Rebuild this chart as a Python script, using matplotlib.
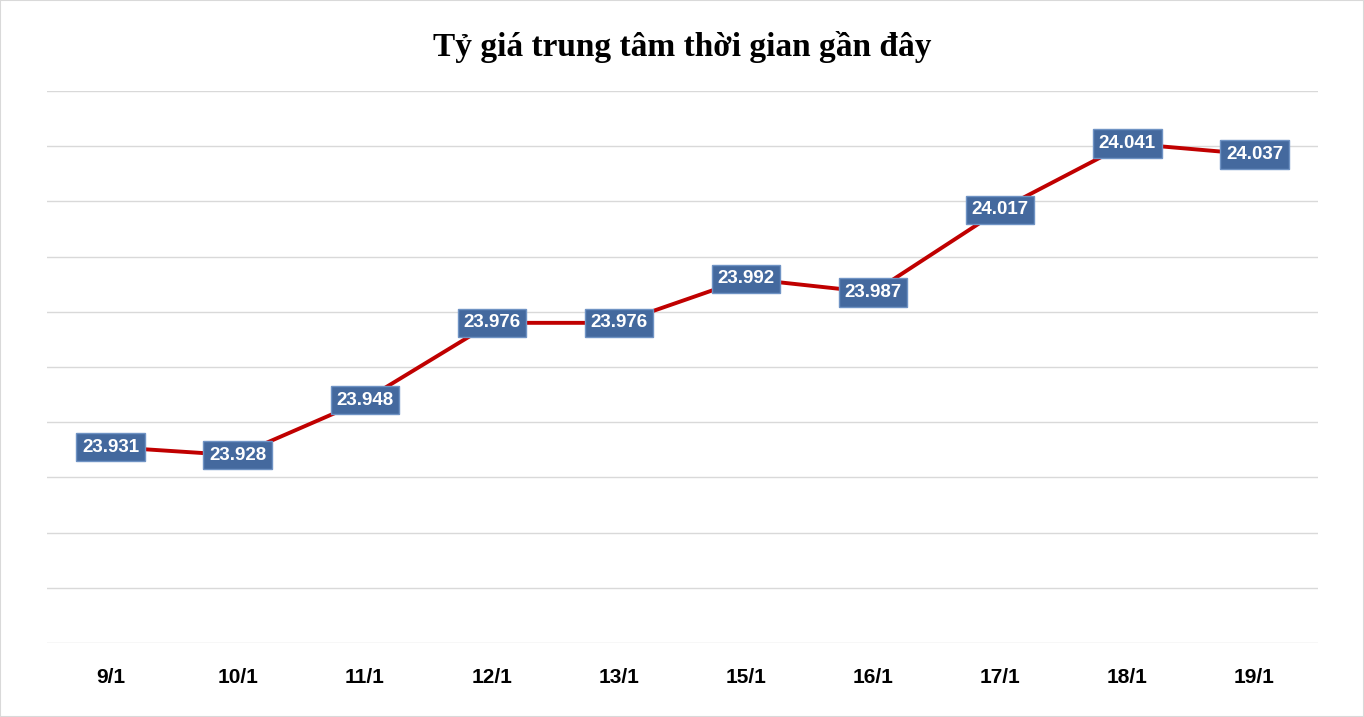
import matplotlib
matplotlib.use("Agg")
import matplotlib.pyplot as plt
from matplotlib.patches import Rectangle

categories = ["9/1", "10/1", "11/1", "12/1", "13/1", "15/1", "16/1", "17/1", "18/1", "19/1"]
values = [23.931, 23.928, 23.948, 23.976, 23.976, 23.992, 23.987, 24.017, 24.041, 24.037]
labels = ["23.931", "23.928", "23.948", "23.976", "23.976", "23.992", "23.987", "24.017", "24.041", "24.037"]

fig = plt.figure(figsize=(13.64, 7.17), dpi=100)
fig.patches.append(Rectangle((0, 0), 1, 1, transform=fig.transFigure, fill=False,
                             edgecolor="#d9d9d9", linewidth=1.5))
ax = fig.add_axes([47/1364, 1-643/717, (1318-47)/1364, (643-91)/717])
x = list(range(len(categories)))
ax.plot(x, values, color="#c00000", linewidth=2.8, zorder=2)
for xi, v, l in zip(x, values, labels):
    ax.text(xi, v, l, ha="center", va="center", color="white", fontsize=13.5,
            fontweight="bold", family="Liberation Sans", zorder=3,
            bbox=dict(boxstyle="square,pad=0.3", facecolor="#44699e", edgecolor="#6f93c4", linewidth=1))
ax.set_ylim(23.86, 24.06)
ax.set_xlim(-0.5, 9.5)
ax.set_yticks([23.86 + 0.02*i for i in range(11)])
ax.yaxis.grid(True, color="#d9d9d9", linewidth=1)
ax.set_yticklabels([])
ax.tick_params(axis="y", length=0)
ax.tick_params(axis="x", length=0, pad=18)
ax.set_xticks(x)
ax.set_xticklabels(categories, fontsize=15, fontweight="bold", family="Liberation Sans")
for s in ax.spines.values():
    s.set_visible(False)
ax.set_axisbelow(True)
fig.text(0.5, 1-47/717, "Tỷ giá trung tâm thời gian gần đây", ha="center", va="center",
         fontsize=24, fontweight="bold", family="Liberation Serif")
fig.savefig("out.png", dpi=100)
